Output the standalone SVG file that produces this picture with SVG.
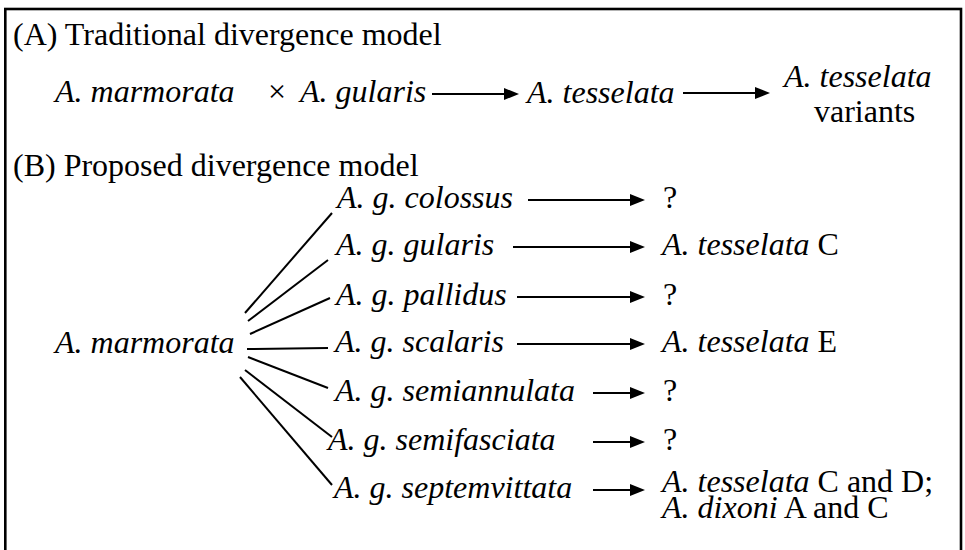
<svg xmlns="http://www.w3.org/2000/svg" width="965" height="550" viewBox="0 0 965 550">
<style>
text{font-family:"Liberation Serif","Times New Roman",serif;font-size:32px;fill:#000}
.i{font-style:italic}
.c{stroke:#000;stroke-width:2;fill:none}
.a{stroke:#000;stroke-width:2;fill:none;marker-end:url(#ah)}
</style>
<defs>
<marker id="ah" markerUnits="userSpaceOnUse" markerWidth="16" markerHeight="12" refX="3" refY="6" orient="auto">
<path d="M0,0 L15,6 L0,12 z" fill="#000"/>
</marker>
</defs>
<rect x="5.3" y="9" width="955.7" height="570" fill="#fff" stroke="#000" stroke-width="2.6"/>
<g id="headerA"><text x="13" y="45">(A) Traditional divergence model</text></g>
<g id="headerB"><text x="13" y="176">(B) Proposed divergence model</text></g>
<g id="a-marmorata"><text class="i" x="55" y="102">A. marmorata</text></g>
<g id="a-cross"><text x="268" y="102">×</text></g>
<g id="a-gularis"><text class="i" x="300" y="102">A. gularis</text></g>
<g id="a-tesselata"><text class="i" x="527" y="103">A. tesselata</text></g>
<g id="a-variants"><text class="i" x="784" y="87">A. tesselata</text><text x="814" y="122">variants</text></g>
<g id="b-marmorata"><text class="i" x="55" y="353">A. marmorata</text></g>
<g id="b-colossus"><text class="i" x="337" y="208">A. g. colossus</text></g>
<g id="b-gularis"><text class="i" x="336" y="255">A. g. gularis</text></g>
<g id="b-pallidus"><text class="i" x="336" y="305">A. g. pallidus</text></g>
<g id="b-scalaris"><text class="i" x="335" y="352">A. g. scalaris</text></g>
<g id="b-semiannulata"><text class="i" x="335" y="401">A. g. semiannulata</text></g>
<g id="b-semifasciata"><text class="i" x="328" y="450">A. g. semifasciata</text></g>
<g id="b-septemvittata"><text class="i" x="334" y="498">A. g. septemvittata</text></g>
<g id="r-colossus"><text x="663" y="208">?</text></g>
<g id="r-gularis"><text x="662" y="255"><tspan class="i">A. tesselata</tspan> C</text></g>
<g id="r-pallidus"><text x="663" y="305">?</text></g>
<g id="r-scalaris"><text x="662" y="352"><tspan class="i">A. tesselata</tspan> E</text></g>
<g id="r-semiannulata"><text x="663" y="401">?</text></g>
<g id="r-semifasciata"><text x="663" y="450">?</text></g>
<g id="r-septemvittata"><text x="662" y="492"><tspan class="i">A. tesselata</tspan> C and D;</text><text x="662" y="518"><tspan class="i">A. dixoni</tspan> A and C</text></g>
<g id="connectors">
<line class="a" x1="432" y1="94" x2="507" y2="94"/>
<line class="a" x1="683" y1="93" x2="758" y2="93"/>
<line class="c" x1="245" y1="313" x2="332" y2="213"/>
<line class="c" x1="248" y1="321" x2="328" y2="260"/>
<line class="c" x1="250" y1="334" x2="330" y2="298"/>
<line class="c" x1="247" y1="349" x2="328" y2="348"/>
<line class="c" x1="248" y1="357" x2="328" y2="388"/>
<line class="c" x1="245" y1="370" x2="332" y2="437"/>
<line class="c" x1="240" y1="377" x2="332" y2="485"/>
<line class="a" x1="528" y1="200" x2="633" y2="200"/>
<line class="a" x1="513" y1="247" x2="633" y2="247"/>
<line class="a" x1="517" y1="297" x2="633" y2="297"/>
<line class="a" x1="517" y1="344" x2="633" y2="344"/>
<line class="a" x1="593" y1="393" x2="633" y2="393"/>
<line class="a" x1="593" y1="442" x2="633" y2="442"/>
<line class="a" x1="593" y1="490" x2="633" y2="490"/>
</g>
</svg>
